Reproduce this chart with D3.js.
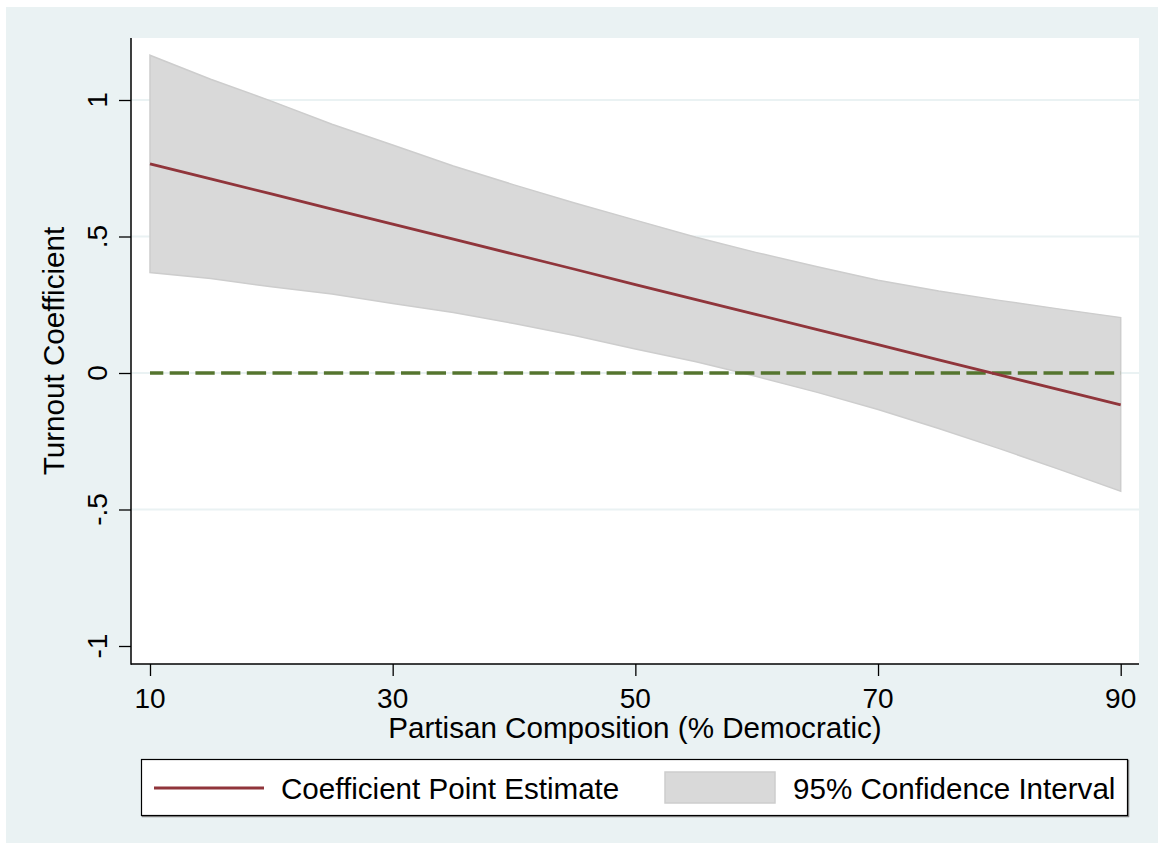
<!DOCTYPE html>
<html>
<head>
<meta charset="utf-8">
<script src="https://cdn.jsdelivr.net/npm/d3@7"></script>
<style>
  html, body { margin: 0; padding: 0; background: #ffffff; }
  svg { display: block; }
  text { font-family: "Liberation Sans", Arial, Helvetica, sans-serif; fill: #000; }
</style>
</head>
<body>
<svg id="chart" width="1164" height="850"></svg>
<script>
// ---- data ----
const partisanX = [10, 15, 20, 25, 30, 35, 40, 45, 50, 55, 60, 65, 70, 75, 80, 85, 90];
const estimate  = [0.766, 0.711, 0.656, 0.600, 0.545, 0.490, 0.435, 0.380, 0.324, 0.269, 0.214, 0.159, 0.104, 0.048, -0.007, -0.062, -0.117];
const upperCI   = [1.164, 1.076, 0.996, 0.911, 0.835, 0.758, 0.689, 0.623, 0.560, 0.497, 0.441, 0.389, 0.340, 0.300, 0.266, 0.234, 0.203];
const lowerCI   = [0.368, 0.346, 0.316, 0.289, 0.255, 0.222, 0.181, 0.137, 0.088, 0.041, -0.013, -0.071, -0.134, -0.203, -0.277, -0.354, -0.433];
const xTicks = [10, 30, 50, 70, 90];
const yTicks = [-1, -0.5, 0, 0.5, 1];
const yTickLabels = ["-1", "-.5", "0", ".5", "1"];
const gridTicks = [-0.5, 0, 0.5, 1];
const xTitle = "Partisan Composition (% Democratic)";
const yTitle = "Turnout Coefficient";
const legendLabels = ["Coefficient Point Estimate", "95% Confidence Interval"];

const data = partisanX.map((x, i) => ({ x, est: estimate[i], lo: lowerCI[i], hi: upperCI[i] }));

// ---- layout ----
const plot = { left: 131, right: 1139, top: 38, bottom: 664 };
const colors = { bg: "#eaf2f3", est: "#90353b", ci: "#d9d9d9", ciStroke: "#cdcdcd", zero: "#55752f" };

const svg = d3.select("#chart");

svg.append("rect").attr("x", 6).attr("y", 7).attr("width", 1152).attr("height", 836).attr("fill", colors.bg);
svg.append("rect").attr("x", plot.left).attr("y", plot.top)
  .attr("width", plot.right - plot.left).attr("height", plot.bottom - plot.top).attr("fill", "#fff");

const x = d3.scaleLinear().domain([10, 90]).range([150, 1120.7]);
const y = d3.scaleLinear().domain([-1, 1]).range([646, 100]);

// gridlines
svg.append("g").selectAll("line").data(gridTicks).join("line")
  .attr("x1", plot.left).attr("x2", plot.right)
  .attr("y1", d => y(d)).attr("y2", d => y(d))
  .attr("stroke", colors.bg).attr("stroke-width", 2);

// CI band
const area = d3.area().x(d => x(d.x)).y0(d => y(d.lo)).y1(d => y(d.hi));
svg.append("path").datum(data).attr("d", area)
  .attr("fill", colors.ci).attr("stroke", colors.ciStroke).attr("stroke-width", 1.5);

// zero reference line
svg.append("line")
  .attr("x1", x(10)).attr("x2", x(90)).attr("y1", y(0)).attr("y2", y(0))
  .attr("stroke", colors.zero).attr("stroke-width", 3.3)
  .attr("stroke-dasharray", "19.3 6.4").attr("stroke-dashoffset", 6);

// estimate line
const line = d3.line().x(d => x(d.x)).y(d => y(d.est));
svg.append("path").datum(data).attr("d", line)
  .attr("fill", "none").attr("stroke", colors.est).attr("stroke-width", 2.8);

// axes
const yAxis = d3.axisLeft(y).tickValues(yTicks).tickSize(12).tickPadding(0).tickFormat((d, i) => yTickLabels[i]);
const gy = svg.append("g").attr("transform", `translate(${plot.left},0)`).call(yAxis);
gy.select(".domain").remove();
gy.selectAll(".tick line").attr("stroke", "#000").attr("stroke-width", 1.3);
gy.selectAll(".tick text").remove();
svg.append("g").selectAll("text").data(yTicks).join("text")
  .attr("transform", d => `translate(107,${y(d)}) rotate(-90)`)
  .attr("text-anchor", "middle").attr("font-size", 28)
  .text((d, i) => yTickLabels[i]);

const xAxis = d3.axisBottom(x).tickValues(xTicks).tickSize(12).tickPadding(0).tickFormat(d3.format("d"));
const gx = svg.append("g").attr("transform", `translate(0,${plot.bottom})`).call(xAxis);
gx.select(".domain").remove();
gx.selectAll(".tick line").attr("stroke", "#000").attr("stroke-width", 1.3);
gx.selectAll(".tick text").remove();
svg.append("g").selectAll("text").data(xTicks).join("text")
  .attr("x", d => x(d)).attr("y", 708)
  .attr("text-anchor", "middle").attr("font-size", 28)
  .text(d => d);

// axis lines
svg.append("line").attr("x1", plot.left).attr("x2", plot.left).attr("y1", plot.top).attr("y2", plot.bottom + 0.7)
  .attr("stroke", "#000").attr("stroke-width", 1.5);
svg.append("line").attr("x1", plot.left).attr("x2", plot.right).attr("y1", plot.bottom).attr("y2", plot.bottom)
  .attr("stroke", "#000").attr("stroke-width", 1.5);

// axis titles
svg.append("text").attr("x", (plot.left + plot.right) / 2).attr("y", 738)
  .attr("text-anchor", "middle").attr("font-size", 29.6).text(xTitle);
svg.append("text").attr("transform", `translate(64,${(plot.top + plot.bottom) / 2}) rotate(-90)`)
  .attr("text-anchor", "middle").attr("font-size", 29.6).text(yTitle);

// legend
const lg = svg.append("g");
lg.append("rect").attr("x", 142.5).attr("y", 760.5).attr("width", 986).attr("height", 56)
  .attr("fill", "none").attr("stroke", "#888").attr("stroke-width", 1.5);
lg.append("rect").attr("x", 141.5).attr("y", 759.5).attr("width", 986).attr("height", 56)
  .attr("fill", "#fff").attr("stroke", "#000").attr("stroke-width", 1.2);
lg.append("line").attr("x1", 154).attr("x2", 264).attr("y1", 788).attr("y2", 788)
  .attr("stroke", colors.est).attr("stroke-width", 2.8);
lg.append("text").attr("x", 281).attr("y", 799).attr("font-size", 29.6).text(legendLabels[0]);
lg.append("rect").attr("x", 665).attr("y", 772).attr("width", 110).attr("height", 31)
  .attr("fill", colors.ci).attr("stroke", colors.ciStroke).attr("stroke-width", 1.5);
lg.append("text").attr("x", 793).attr("y", 799).attr("font-size", 29.6).text(legendLabels[1]);
</script>
</body>
</html>
